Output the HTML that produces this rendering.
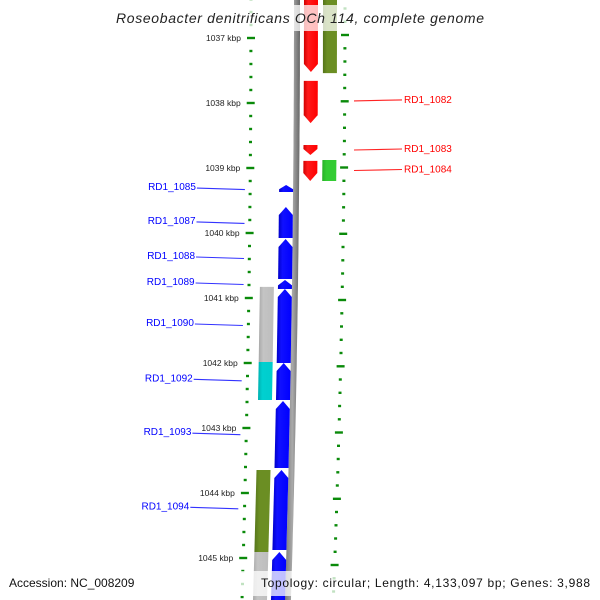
<!DOCTYPE html>
<html><head><meta charset="utf-8"><style>
html,body{margin:0;padding:0;background:#fff;}
svg{display:block;font-family:"Liberation Sans","DejaVu Sans",sans-serif;}
</style></head><body>
<svg id="chart" width="600" height="600" viewBox="0 0 600 600" xmlns="http://www.w3.org/2000/svg">
<defs>
<linearGradient id="gRed" x1="0" x2="1"><stop offset="0" stop-color="#d00000"/><stop offset="0.3" stop-color="#ff1a1a"/><stop offset="1" stop-color="#ff0000"/></linearGradient>
<linearGradient id="gBlue" x1="0" x2="1"><stop offset="0" stop-color="#0000c8"/><stop offset="0.3" stop-color="#1010ff"/><stop offset="1" stop-color="#0000ff"/></linearGradient>
<linearGradient id="gOlive" x1="0" x2="1"><stop offset="0" stop-color="#55751a"/><stop offset="0.3" stop-color="#6b8e23"/><stop offset="1" stop-color="#6b8e23"/></linearGradient>
<linearGradient id="gGreen" x1="0" x2="1"><stop offset="0" stop-color="#28b028"/><stop offset="0.3" stop-color="#33cc33"/><stop offset="1" stop-color="#33cc33"/></linearGradient>
<linearGradient id="gGray" x1="0" x2="1"><stop offset="0" stop-color="#a8a8a8"/><stop offset="0.3" stop-color="#c4c4c4"/><stop offset="1" stop-color="#bdbdbd"/></linearGradient>
<linearGradient id="gCyan" x1="0" x2="1"><stop offset="0" stop-color="#00b0b0"/><stop offset="0.3" stop-color="#00d0d0"/><stop offset="1" stop-color="#00cccc"/></linearGradient>
<linearGradient id="gBack" x1="0" x2="1"><stop offset="0" stop-color="#777"/><stop offset="0.5" stop-color="#aaa"/><stop offset="1" stop-color="#666"/></linearGradient>
</defs>
<g id="layer"></g>
</svg>
<script>
// ---- data ----
const fwdStarts = [1036.40, 1037.66, 1038.646, 1038.89];
const fwdEnds   = [1037.523, 1038.31, 1038.80, 1039.20];
const fwdOtherStarts = [1036.40, 1038.877];
const fwdOtherEnds   = [1037.54, 1039.20];
const fwdOtherColors = ['gOlive', 'gGreen'];
const revStarts = [1039.262, 1039.60, 1040.092, 1040.723, 1040.862, 1042.00, 1042.585, 1043.646, 1044.908];
const revEnds   = [1039.37, 1040.077, 1040.708, 1040.862, 1042.00, 1042.57, 1043.615, 1044.877, 1045.75];
const revOtherStarts = [1040.83, 1041.985, 1043.646, 1044.908];
const revOtherEnds   = [1041.985, 1042.57, 1044.908, 1045.75];
const revOtherColors = ['gGray', 'gCyan', 'gOlive', 'gGray'];
const tickKbp = [1037, 1038, 1039, 1040, 1041, 1042, 1043, 1044, 1045];
const tickLabels = ['1037 kbp','1038 kbp','1039 kbp','1040 kbp','1041 kbp','1042 kbp','1043 kbp','1044 kbp','1045 kbp'];
const leftLabelNames = ['RD1_1085','RD1_1087','RD1_1088','RD1_1089','RD1_1090','RD1_1092','RD1_1093','RD1_1094'];
const leftLabelKbp = [1039.31, 1039.83, 1040.37, 1040.77, 1041.40, 1042.25, 1043.08, 1044.22];
const rightLabelNames = ['RD1_1082','RD1_1083','RD1_1084'];
const rightLabelKbp = [1037.98, 1038.72, 1039.03];

// ---- scales ----
const NS='http://www.w3.org/2000/svg';
const layer=document.getElementById('layer');
const yOf = k => 38 + (k-1037)*65;
const yR = k => 35 + (k-1037)*66.25;
const dx = y => -0.000025*y*y;
function mk(tag, attrs, name){const e=document.createElementNS(NS,tag);for(const a in attrs)e.setAttribute(a,attrs[a]);


layer.appendChild(e);return e;}
const pts = a => a.map(p=>(p[0]+dx(p[1])).toFixed(1)+','+p[1].toFixed(1)).join(' ');

// backbone
{const p=[];for(let y=-5;y<=605;y+=10)p.push([294,y]);for(let y=605;y>=-5;y-=10)p.push([300,y]);
mk('polygon',{points:pts(p),fill:'url(#gBack)'},'backbone');}

// ticks
function ticks(xc, yfn, side, nm){
  for(let k=1036.4;k<=1045.81;k+=0.2){
    const y=yfn(k); if(y<-2||y>602)continue;
    const maj=Math.abs(k-Math.round(k))<0.01;
    const x=xc+dx(y)*(side=='r'?1.3:1);
    mk('rect',{x:(maj?x-4:x-1.5).toFixed(1),y:(y-1.2).toFixed(1),width:maj?8:3,height:2.4,fill:'#0a8a0a'},nm+(maj?'-major':'-minor'));
  }
}
ticks(251,yOf,'l','left-tick');
ticks(345,yR,'r','right-tick');
tickKbp.forEach((k,i)=>{const y=yOf(k);const t=mk('text',{x:(241+dx(y)).toFixed(1),y:(y+3).toFixed(1),'text-anchor':'end','font-size':'8.5',fill:'#222'},'tick-label');t.textContent=tickLabels[i];});

// features
function box(s,e,x0,x1,fill,dir,nm){
  const ya=Math.max(yOf(s),-10), yb=Math.min(yOf(e),610); const h=Math.min(8,(yb-ya)*0.6);
  let p;
  if(dir=='down') p=[[x0,ya],[x1,ya],[x1,yb-h],[(x0+x1)/2,yb],[x0,yb-h]];
  else if(dir=='up') p=[[(x0+x1)/2,ya],[x1,ya+h],[x1,yb],[x0,yb],[x0,ya+h]];
  else p=[[x0,ya],[x1,ya],[x1,yb],[x0,yb]];
  mk('polygon',{points:pts(p),fill:fill},nm);
}
fwdStarts.forEach((s,i)=>box(s,fwdEnds[i],304,318,'url(#gRed)','down','forward-gene'));
fwdOtherStarts.forEach((s,i)=>box(s,fwdOtherEnds[i],323,337,'url(#'+fwdOtherColors[i]+')','none','forward-feature'));
revStarts.forEach((s,i)=>box(s,revEnds[i],280,294,'url(#gBlue)','up','reverse-gene'));
revOtherStarts.forEach((s,i)=>box(s,revOtherEnds[i],262,276,'url(#'+revOtherColors[i]+')','none','reverse-feature'));

// labels
leftLabelNames.forEach((n,i)=>{const y=yOf(leftLabelKbp[i]);const xe=246+dx(y)*1.2;
  const t=mk('text',{x:(xe-49).toFixed(1),y:(y+2).toFixed(1),'text-anchor':'end','font-size':'10',fill:'#0000ff'},'gene-label-'+n.toLowerCase().replace('_','-'));t.textContent=n;
  mk('line',{x1:(xe-48).toFixed(1),y1:y.toFixed(1),x2:xe.toFixed(1),y2:(y+1.5).toFixed(1),stroke:'#3333ff','stroke-width':1.1},'label-line');});
rightLabelNames.forEach((n,i)=>{const y=yR(rightLabelKbp[i]);
  mk('line',{x1:354,y1:(y+1).toFixed(1),x2:402,y2:y.toFixed(1),stroke:'#ff2222','stroke-width':1.1},'label-line');
  const t=mk('text',{x:404,y:(y+3).toFixed(1),'font-size':'10',fill:'#ff0000'},'gene-label-'+n.toLowerCase().replace('_','-'));t.textContent=n;});

// title and footer
mk('rect',{x:110,y:5,width:380,height:26,fill:'#fff','fill-opacity':0.75},'title-background');
{const t=mk('text',{x:116,y:23,'font-size':'14','font-style':'italic',fill:'#222',textLength:368,lengthAdjust:'spacing'},'chart-title');t.textContent='Roseobacter denitrificans OCh 114, complete genome';}
{const t=mk('text',{x:9,y:587,'font-size':'12',fill:'#111'},'accession-label');t.textContent='Accession: NC_008209';}
mk('rect',{x:224,y:571,width:376,height:25,fill:'#fff','fill-opacity':0.75},'footer-background');
{const t=mk('text',{x:261,y:587,'font-size':'12',fill:'#111',textLength:329,lengthAdjust:'spacing'},'topology-label');t.textContent='Topology: circular; Length: 4,133,097 bp; Genes: 3,988';}
</script>
</body></html>
